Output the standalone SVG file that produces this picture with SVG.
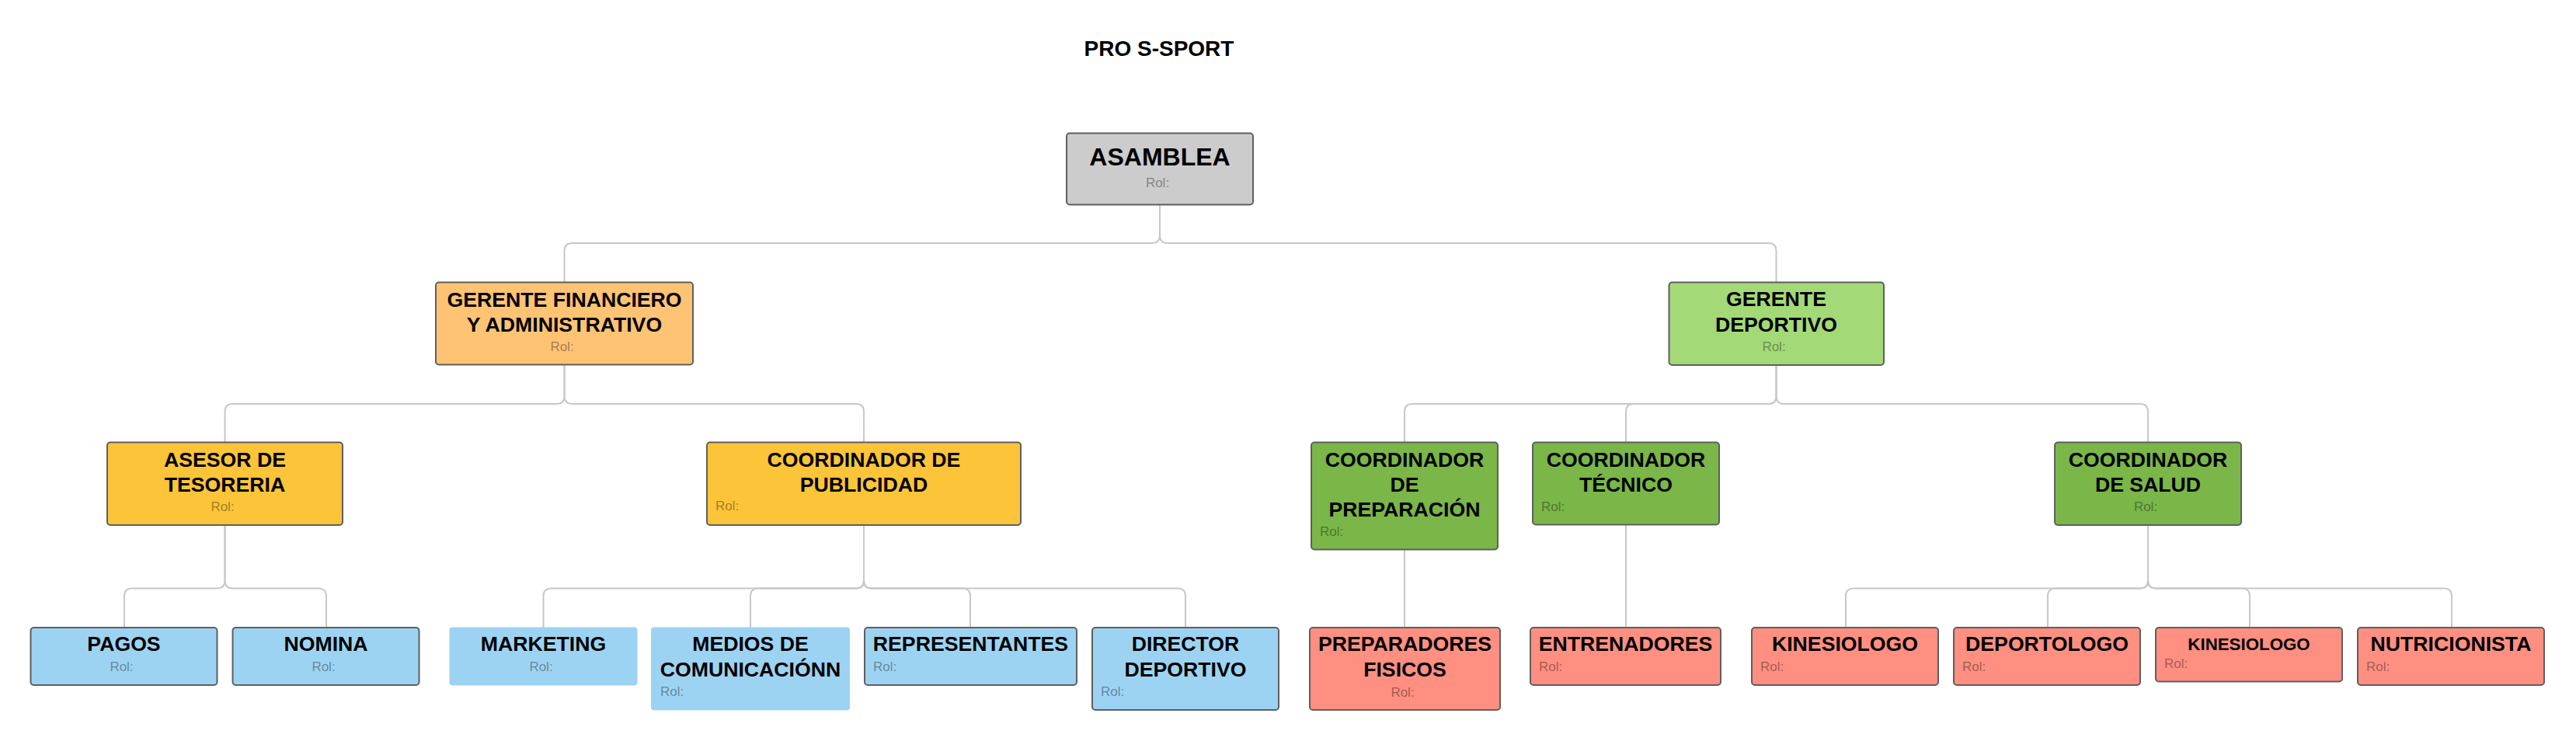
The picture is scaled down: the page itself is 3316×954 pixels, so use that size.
<svg xmlns="http://www.w3.org/2000/svg" width="3316" height="954" viewBox="0 0 3316 954">
<style>
.bx{stroke:#5f5f5f;stroke-width:2}
.nb{stroke:none}
.t{font-family:"Liberation Sans",Arial,sans-serif;font-weight:bold;font-size:26.67px;fill:#000;text-anchor:middle}
.r{font-family:"Liberation Sans",Arial,sans-serif;font-size:17px;fill:#000;fill-opacity:0.38;text-anchor:middle}
.rl{font-family:"Liberation Sans",Arial,sans-serif;font-size:17px;fill:#000;fill-opacity:0.38;text-anchor:start}
.c{fill:none;stroke:#c8c8c8;stroke-width:2}
.grey{fill:#cccccc}.orange{fill:#ffc374}.yellow{fill:#fcc438}.lgreen{fill:#a3d977}.green{fill:#7ab648}.blue{fill:#9dd3f2}.red{fill:#ff8f80}
</style>
<rect width="3316" height="954" fill="#ffffff"/>
<text x="1492" y="72.3" style="font-family:'Liberation Sans',Arial,sans-serif;font-weight:bold;font-size:28px;text-anchor:middle">PRO S-SPORT</text>
<g id="connectors">
<path class="c" d="M1493,263 V303 Q1493,313 1483,313 H736.5 Q726.5,313 726.5,323 V363"/>
<path class="c" d="M1493,263 V303 Q1493,313 1503,313 H2276.5 Q2286.5,313 2286.5,323 V363"/>
<path class="c" d="M726.5,469.5 V510 Q726.5,520 716.5,520 H299.5 Q289.5,520 289.5,530 V569"/>
<path class="c" d="M726.5,469.5 V510 Q726.5,520 736.5,520 H1102 Q1112,520 1112,530 V569"/>
<path class="c" d="M2286.5,470 V510 Q2286.5,520 2276.5,520 H1818 Q1808,520 1808,530 V569"/>
<path class="c" d="M2286.5,470 V510 Q2286.5,520 2276.5,520 H2103 Q2093,520 2093,530 V569"/>
<path class="c" d="M2286.5,470 V510 Q2286.5,520 2296.5,520 H2755 Q2765,520 2765,530 V569"/>
<path class="c" d="M289.5,676 V747.5 Q289.5,757.5 279.5,757.5 H170 Q160,757.5 160,767.5 V808"/>
<path class="c" d="M289.5,676 V747.5 Q289.5,757.5 299.5,757.5 H410 Q420,757.5 420,767.5 V808"/>
<path class="c" d="M1112,676 V747.5 Q1112,757.5 1102,757.5 H709.5 Q699.5,757.5 699.5,767.5 V808"/>
<path class="c" d="M1112,676 V747.5 Q1112,757.5 1102,757.5 H976 Q966,757.5 966,767.5 V808"/>
<path class="c" d="M1112,676 V747.5 Q1112,757.5 1122,757.5 H1239 Q1249,757.5 1249,767.5 V808"/>
<path class="c" d="M1112,676 V747.5 Q1112,757.5 1122,757.5 H1516 Q1526,757.5 1526,767.5 V808"/>
<path class="c" d="M1808,707.5 V808"/>
<path class="c" d="M2093,675.5 V808"/>
<path class="c" d="M2765,676 V747.5 Q2765,757.5 2755,757.5 H2386 Q2376,757.5 2376,767.5 V808"/>
<path class="c" d="M2765,676 V747.5 Q2765,757.5 2755,757.5 H2646 Q2636,757.5 2636,767.5 V808"/>
<path class="c" d="M2765,676 V747.5 Q2765,757.5 2775,757.5 H2886 Q2896,757.5 2896,767.5 V808"/>
<path class="c" d="M2765,676 V747.5 Q2765,757.5 2775,757.5 H3146 Q3156,757.5 3156,767.5 V808"/>
</g>
<g id="asamblea">
<rect class="bx grey" x="1373" y="171.5" width="240" height="92" rx="4"/>
<text class="t" x="1493" y="212.7" style="font-size:32px">ASAMBLEA</text>
<text class="r" x="1490" y="240.7">Rol:</text>
</g>
<g id="gerente-financiero">
<rect class="bx orange" x="561" y="363.5" width="331" height="106" rx="4"/>
<text class="t" x="726.5" y="395">GERENTE FINANCIERO</text>
<text class="t" x="726.5" y="427.3">Y ADMINISTRATIVO</text>
<text class="r" x="723.5" y="452">Rol:</text>
</g>
<g id="gerente-deportivo">
<rect class="bx lgreen" x="2148.5" y="363.5" width="276.5" height="106.5" rx="4"/>
<text class="t" x="2286.5" y="394.3">GERENTE</text>
<text class="t" x="2286.5" y="426.7">DEPORTIVO</text>
<text class="r" x="2283.5" y="452">Rol:</text>
</g>
<g id="asesor-tesoreria">
<rect class="bx yellow" x="138" y="569.5" width="303" height="106.5" rx="4"/>
<text class="t" x="289.5" y="601">ASESOR DE</text>
<text class="t" x="289.5" y="632.7">TESORERIA</text>
<text class="r" x="286.5" y="658.3">Rol:</text>
</g>
<g id="coordinador-publicidad">
<rect class="bx yellow" x="910" y="569.5" width="404" height="106.5" rx="4"/>
<text class="t" x="1112" y="601">COORDINADOR DE</text>
<text class="t" x="1112" y="632.7">PUBLICIDAD</text>
<text class="rl" x="921" y="657.3">Rol:</text>
</g>
<g id="coordinador-preparacion">
<rect class="bx green" x="1688" y="569.5" width="240" height="138" rx="4"/>
<text class="t" x="1808" y="600.7">COORDINADOR</text>
<text class="t" x="1808" y="632.7">DE</text>
<text class="t" x="1808" y="665">PREPARACIÓN</text>
<text class="rl" x="1699" y="690">Rol:</text>
</g>
<g id="coordinador-tecnico">
<rect class="bx green" x="1973" y="569.5" width="240" height="106" rx="4"/>
<text class="t" x="2093" y="600.7">COORDINADOR</text>
<text class="t" x="2093" y="632.7">TÉCNICO</text>
<text class="rl" x="1984" y="658.3">Rol:</text>
</g>
<g id="coordinador-salud">
<rect class="bx green" x="2645" y="569.5" width="240" height="106.5" rx="4"/>
<text class="t" x="2765" y="600.7">COORDINADOR</text>
<text class="t" x="2765" y="632.7">DE SALUD</text>
<text class="r" x="2762" y="657.7">Rol:</text>
</g>
<g id="pagos">
<rect class="bx blue" x="39.5" y="808" width="240" height="74" rx="4"/>
<text class="t" x="159.5" y="838.3">PAGOS</text>
<text class="r" x="156.5" y="864.3">Rol:</text>
</g>
<g id="nomina">
<rect class="bx blue" x="299.5" y="808" width="240" height="74" rx="4"/>
<text class="t" x="419.5" y="838.3">NOMINA</text>
<text class="r" x="416.5" y="864.3">Rol:</text>
</g>
<g id="marketing">
<rect class="nb blue" x="578.5" y="807.5" width="242" height="75" rx="4"/>
<text class="t" x="699.5" y="838.3">MARKETING</text>
<text class="r" x="696.5" y="864.3">Rol:</text>
</g>
<g id="medios-comunicacion">
<rect class="nb blue" x="838" y="807.5" width="256" height="107" rx="4"/>
<text class="t" x="966" y="838.3">MEDIOS DE</text>
<text class="t" x="966" y="871">COMUNICACIÓNN</text>
<text class="rl" x="850" y="896">Rol:</text>
</g>
<g id="representantes">
<rect class="bx blue" x="1113" y="808" width="273" height="74" rx="4"/>
<text class="t" x="1249.5" y="838.3">REPRESENTANTES</text>
<text class="rl" x="1124" y="864.3">Rol:</text>
</g>
<g id="director-deportivo">
<rect class="bx blue" x="1406" y="808" width="240" height="106" rx="4"/>
<text class="t" x="1526" y="838.3">DIRECTOR</text>
<text class="t" x="1526" y="871">DEPORTIVO</text>
<text class="rl" x="1417" y="896">Rol:</text>
</g>
<g id="preparadores-fisicos">
<rect class="bx red" x="1686" y="808" width="245" height="106" rx="4"/>
<text class="t" x="1808.5" y="838.3">PREPARADORES</text>
<text class="t" x="1808.5" y="871">FISICOS</text>
<text class="r" x="1805.5" y="896.7">Rol:</text>
</g>
<g id="entrenadores">
<rect class="bx red" x="1970" y="808" width="245" height="74" rx="4"/>
<text class="t" x="2092.5" y="838.3">ENTRENADORES</text>
<text class="rl" x="1981" y="864">Rol:</text>
</g>
<g id="kinesiologo">
<rect class="bx red" x="2255" y="808" width="240" height="74" rx="4"/>
<text class="t" x="2375" y="838.3">KINESIOLOGO</text>
<text class="rl" x="2266" y="864">Rol:</text>
</g>
<g id="deportologo">
<rect class="bx red" x="2515" y="808" width="240" height="74" rx="4"/>
<text class="t" x="2635" y="838.3">DEPORTOLOGO</text>
<text class="rl" x="2526" y="864">Rol:</text>
</g>
<g id="kinesiologo-2">
<rect class="bx red" x="2775" y="808" width="240" height="69.5" rx="4"/>
<text class="t" x="2895" y="836.7" style="font-size:22.3px">KINESIOLOGO</text>
<text class="rl" x="2786" y="860">Rol:</text>
</g>
<g id="nutricionista">
<rect class="bx red" x="3035" y="808" width="240" height="74" rx="4"/>
<text class="t" x="3155" y="838.3">NUTRICIONISTA</text>
<text class="rl" x="3046" y="864">Rol:</text>
</g>
</svg>
